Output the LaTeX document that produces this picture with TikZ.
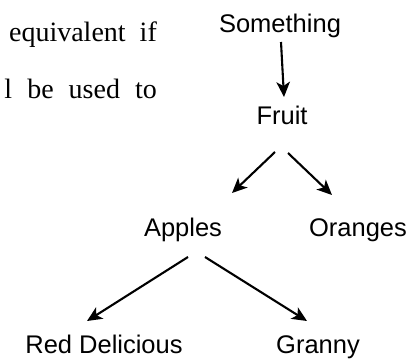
\documentclass[tikz,border=0pt]{standalone}
\usepackage{fontspec}
\setmainfont{Liberation Serif}
\newfontfamily\labelfont{Liberation Sans}
\usetikzlibrary{arrows.meta}
\begin{document}
\begin{tikzpicture}[x=1pt,y=-1pt,
  lbl/.style={anchor=base,inner sep=0pt,font=\labelfont\fontsize{25.5}{30}\selectfont},
  prose/.style={anchor=base east,inner sep=0pt,font=\fontsize{28}{32}\selectfont},
  arr/.style={line width=2.1pt,-{Stealth[length=15pt,width=13.5pt,inset=4pt]}}]
\useasboundingbox (0,0) rectangle (418,364);
\clip (0,0) rectangle (418,364);

% running text beside the tree
\node[prose] (line1) at (157,41) {equivalent\hspace{14pt}if};
\node[prose] (line2) at (157,98) {l\hspace{15pt}be\hspace{15pt}used\hspace{15pt}to};

% tree labels
\node[lbl] (something) at (280,32) {Something};
\node[lbl] (fruit)     at (282,124) {Fruit};
\node[lbl] (apples)    at (183,236) {Apples};
\node[lbl] (oranges)   at (358,236) {Oranges};
\node[lbl] (red)       at (104,353) {Red Delicious};
\node[lbl] (granny)    at (318,353) {Granny};

% connectors
\draw[arr] ([shift={(1,10)}]something.base) -- ([shift={(2,-27)}]fruit.base);
\draw[arr] ([shift={(-7,28)}]fruit.base) -- ([shift={(49,-43)}]apples.base);
\draw[arr] ([shift={(6,29)}]fruit.base) -- ([shift={(-26,-41)}]oranges.base);
\draw[arr] ([shift={(5,21)}]apples.base) -- ([shift={(-17,-32)}]red.base);
\draw[arr] ([shift={(22,21)}]apples.base) -- ([shift={(-11,-32)}]granny.base);
\end{tikzpicture}
\end{document}
